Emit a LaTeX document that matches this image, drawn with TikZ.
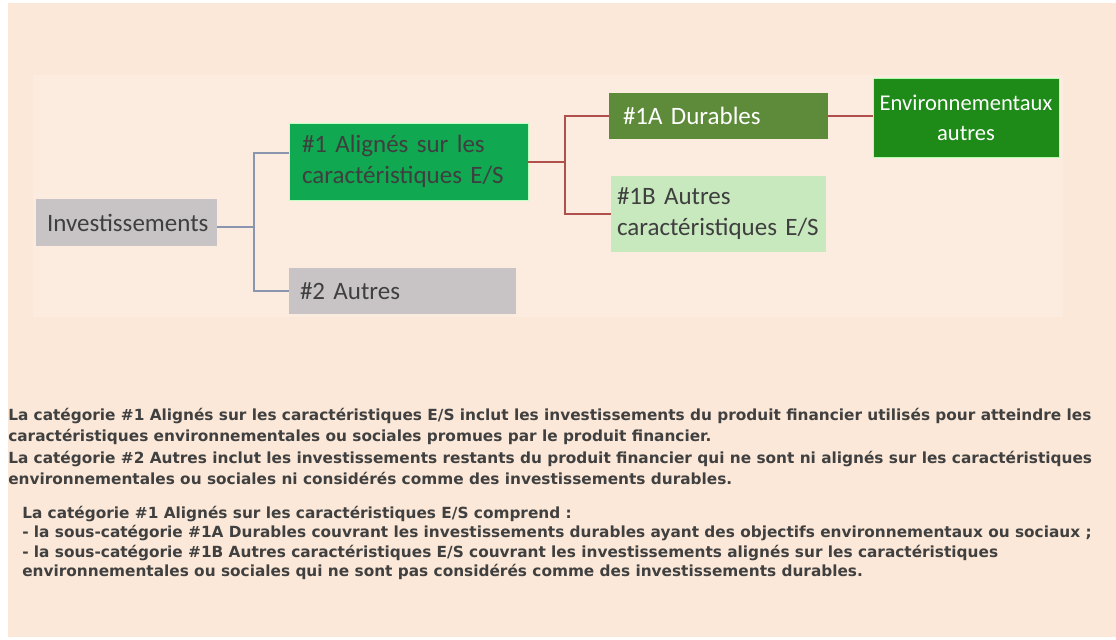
\documentclass[tikz,border=0pt]{standalone}
\usepackage{fontspec}
\newfontfamily\boxfont{Carlito}
\newfontfamily\notefont{DejaVu Sans}

\definecolor{pagebeige}{HTML}{FBE8D8}
\definecolor{panelbeige}{HTML}{FCECDF}
\definecolor{greyfill}{HTML}{C8C4C6}
\definecolor{alignfill}{HTML}{10A850}
\definecolor{durablefill}{HTML}{5E8B3A}
\definecolor{otherfill}{HTML}{C8E8BE}
\definecolor{envfill}{HTML}{1E8A18}
\definecolor{boxtext}{HTML}{3F3F3F}
\definecolor{notetext}{HTML}{404040}
\definecolor{greyline}{HTML}{8A96B0}
\definecolor{redline}{HTML}{B0504D}

\tikzset{
  box/.style={rectangle, inner ysep=0pt, align=left, text=boxtext,
    font={\boxfont\fontsize{18.75}{23.25}\selectfont}},
  greyconn/.style={draw=greyline, line width=1.5pt},
  redconn/.style={draw=redline, line width=1.5pt},
  note/.style={anchor=base west, inner sep=0pt, text=notetext,
    font={\notefont\bfseries\fontsize{11.5}{15}\selectfont}}
}

\begin{document}
\begin{tikzpicture}[x=0.75pt, y=-0.75pt]
  % Page and panel background
  \useasboundingbox (0,0) rectangle (1116,639);
  \fill[white] (0,0) rectangle (1116,639);
  \fill[pagebeige] (8,3) rectangle (1116,637);
  \fill[panelbeige] (33,75) rectangle (1063,317);

  % Boxes
  \node[box, fill=greyfill, minimum height=35.25pt, inner xsep=8.25pt, text width=119.25pt] (inv) at (126.5,222.5) {Investissements};
  \node[box, fill=alignfill, draw=green!25, minimum height=57.75pt, inner xsep=9.75pt, text width=159.75pt] (a1) at (408.5,161.5) {\#1 Alignés sur les\\caractéristiques E/S};
  \node[box, fill=greyfill, minimum height=34.5pt, inner xsep=8.25pt, text width=153.75pt] (a2) at (402.5,291) {\#2 Autres};
  \node[box, fill=durablefill, text=white, minimum height=34.5pt, inner xsep=10.5pt, text width=143.25pt] (d1A) at (718.5,116) {\#1A Durables};
  \node[box, fill=otherfill, minimum height=57pt, inner xsep=4.5pt, text width=152.25pt] (d1B) at (718.5,214) {\#1B Autres\\caractéristiques E/S};
  \node[box, fill=envfill, draw=green!30, text=white, align=center, minimum height=59.25pt, inner xsep=0pt, text width=139.5pt,
    font={\boxfont\fontsize{16.9}{22.5}\selectfont}] (env) at (966,117.5) {Environnementaux\\autres};

  % Connectors
  \draw[greyconn] ([yshift=-3.4pt]inv.east) -- ++(37,0) coordinate (invfork) |- ([yshift=6.4pt]a1.west);
  \draw[greyconn] (invfork) |- (a2.west);
  \draw[redconn] (a1.east) -- ++(37,0) coordinate (alignfork) |- (d1A.west);
  \draw[redconn] (alignfork) |- (d1B.west);
  \draw[redconn] (d1A.east) -- (d1A.east -| env.west);

  % Notes
  \node[note] (n1) at (8,420) {La catégorie \#1 Alignés sur les caractéristiques E/S inclut les investissements du produit financier utilisés pour atteindre les};
  \node[note] (n2) at (8,441) {caractéristiques environnementales ou sociales promues par le produit financier.};
  \node[note] (n3) at (8,463) {La catégorie \#2 Autres inclut les investissements restants du produit financier qui ne sont ni alignés sur les caractéristiques};
  \node[note] (n4) at (8,484) {environnementales ou sociales ni considérés comme des investissements durables.};
  \node[note] (n5) at (22,518) {La catégorie \#1 Alignés sur les caractéristiques E/S comprend :};
  \node[note] (n6) at (22,537) {- la sous-catégorie \#1A Durables couvrant les investissements durables ayant des objectifs environnementaux ou sociaux ;};
  \node[note] (n7) at (22,557) {- la sous-catégorie \#1B Autres caractéristiques E/S couvrant les investissements alignés sur les caractéristiques};
  \node[note] (n8) at (22,576) {environnementales ou sociales qui ne sont pas considérés comme des investissements durables.};
\end{tikzpicture}
\end{document}
